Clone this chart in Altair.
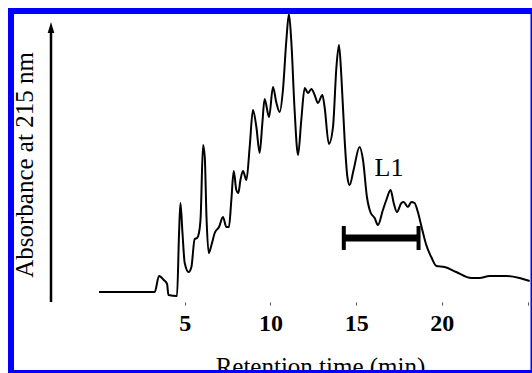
import altair as alt
import pandas as pd

# Chromatogram trace (retention time in min, absorbance in arbitrary units)
time_min = [0.0, 3.25, 3.50, 3.78, 3.97, 4.05, 4.55, 4.67, 4.75, 4.87, 5.00, 5.23, 5.39, 5.58, 5.72,
            5.83, 5.93, 6.07, 6.17, 6.27, 6.40, 6.56, 6.75, 7.00, 7.23, 7.43, 7.58, 7.72, 7.86, 8.01,
            8.13, 8.25, 8.40, 8.60, 8.79, 8.98, 9.18, 9.37, 9.53, 9.66, 9.92, 10.15, 10.35, 10.54,
            10.73, 10.93, 11.08, 11.22, 11.41, 11.61, 11.80, 12.00, 12.19, 12.39, 12.58, 12.77, 13.03,
            13.16, 13.41, 13.65, 13.85, 14.00, 14.14, 14.33, 14.49, 14.62, 14.85, 15.20, 15.40, 15.63,
            15.83, 16.08, 16.27, 16.56, 16.76, 17.01, 17.19, 17.38, 17.64, 17.77, 18.02, 18.22, 18.41,
            18.60, 18.86, 19.09, 19.38, 19.68, 20.16, 20.84, 21.72, 22.20, 22.78, 23.76, 24.53, 25.12]
absorbance = [0, 0, 16, 12, 8, -3, -4, 59, 89, 59, 29, 20, 25, 53, 54,
              59, 75, 147, 135, 75, 39, 47, 59, 65, 75, 65, 65, 92, 121, 102,
              99, 112, 121, 112, 145, 182, 165, 139, 169, 193, 175, 205, 189, 180,
              202, 252, 278, 250, 182, 137, 172, 204, 199, 203, 197, 189, 197,
              185, 148, 165, 225, 247, 215, 152, 115, 107, 122, 145, 132, 95,
              80, 74, 67, 82, 92, 102, 89, 80, 89, 90, 85, 90, 89,
              80, 62, 47, 35, 26, 25, 20, 14, 14, 16, 16, 14, 11]

# Fraction L1 collection window
l1_start = [14.28]
l1_end = [18.64]
l1_level = [54]
l1_cap_low = [42]
l1_cap_high = [66]
l1_label = ["L1"]
l1_label_t = [16.92]
l1_label_v = [116]

tick_values = [5, 10, 15, 20, 25]

trace = pd.DataFrame({"t": time_min, "a": absorbance})
bar = pd.DataFrame({"t1": l1_start, "t2": l1_end, "v": l1_level})
caps = pd.DataFrame({"t": l1_start + l1_end, "lo": l1_cap_low * 2, "hi": l1_cap_high * 2})
lab = pd.DataFrame({"t": l1_label_t, "v": l1_label_v, "txt": l1_label})
one = pd.DataFrame({"k": [0]})

FONT = "Liberation Serif"
xs = alt.Scale(domain=[0, 25.2], nice=False, zero=False)
ys = alt.Scale(domain=[-10, 280], nice=False, zero=False)

line = alt.Chart(trace).mark_line(color="black", strokeWidth=2, interpolate="monotone").encode(
    x=alt.X("t:Q", scale=xs, axis=alt.Axis(
        values=tick_values, labelExpr="datum.value == 25 ? '' : datum.label",
        domain=False, grid=False, ticks=True, tickSize=3, tickColor="#555", tickWidth=1,
        labelFont=FONT, labelFontSize=24, labelFontWeight="bold", labelColor="black", labelPadding=6,
        title="Retention time (min)", titleFont=FONT, titleFontSize=25, titleFontWeight="normal",
        titleColor="black", titleX=221, titleY=52, titleAlign="center", titleBaseline="top")),
    y=alt.Y("a:Q", scale=ys, axis=None),
)

bar_rule = alt.Chart(bar).mark_rule(color="black", strokeWidth=7).encode(
    x=alt.X("t1:Q", scale=xs), x2="t2:Q", y=alt.Y("v:Q", scale=ys))
cap_rule = alt.Chart(caps).mark_rule(color="black", strokeWidth=4).encode(
    x=alt.X("t:Q", scale=xs), y=alt.Y("lo:Q", scale=ys), y2="hi:Q")
l1_text = alt.Chart(lab).mark_text(font=FONT, fontSize=26, color="black", align="center",
                                   baseline="alphabetic").encode(
    x=alt.X("t:Q", scale=xs), y=alt.Y("v:Q", scale=ys), text="txt:N")

arrow_shaft = alt.Chart(one).mark_rule(color="black", strokeWidth=2.5).encode(
    x=alt.value(-48), y=alt.value(18), y2=alt.value(290))
arrow_head = alt.Chart(one).mark_point(shape="M0,-1L0.6,1L-0.6,1Z", filled=True, color="black",
                                       opacity=1, size=121).encode(
    x=alt.value(-48), y=alt.value(15.5))
ytitle = alt.Chart(one).mark_text(text="Absorbance at 215 nm", font=FONT, fontSize=25, color="black",
                                  angle=270, align="center", baseline="alphabetic").encode(
    x=alt.value(-66), y=alt.value(153))
border = alt.Chart(one).mark_rect(fill=None, fillOpacity=0, stroke="#0000ff", strokeWidth=6).encode(
    x=alt.value(-88), x2=alt.value(434.5), y=alt.value(-1), y2=alt.value(361))

chart = alt.layer(line, bar_rule, cap_rule, l1_text, arrow_shaft, arrow_head, ytitle, border).properties(
    width=432, height=290,
    autosize=alt.AutoSizeParams(type="none"),
    padding={"left": 99, "top": 12, "right": 1, "bottom": 71},
    background="white",
).configure_view(stroke=None)

chart.save("out.html", embed_options={"renderer": "svg", "actions": False})
